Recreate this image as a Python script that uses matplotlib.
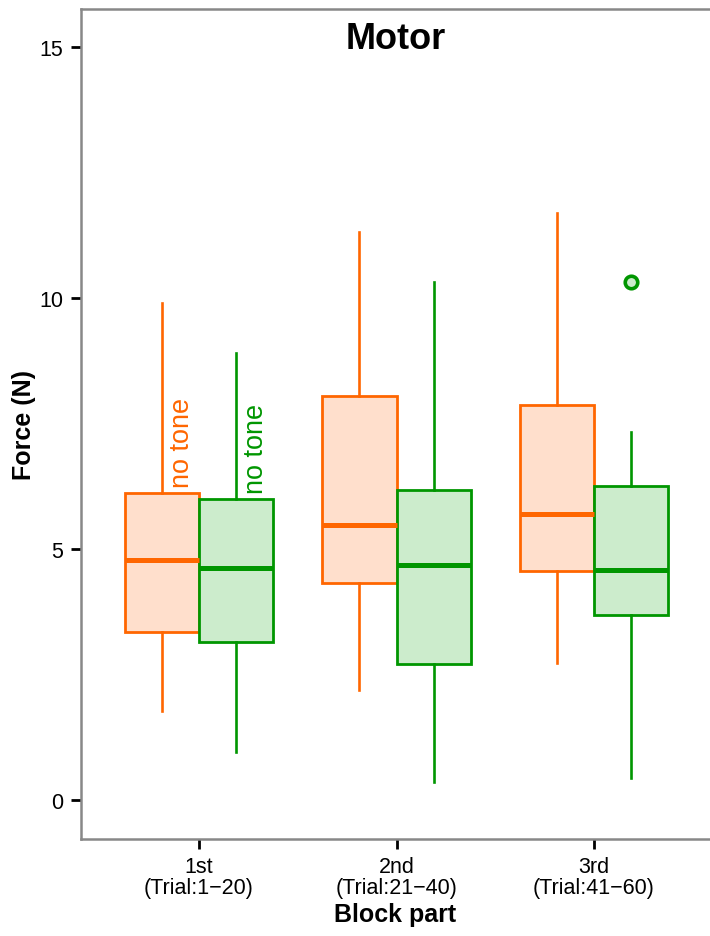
import matplotlib
matplotlib.use("Agg")
import matplotlib.pyplot as plt

plt.rcParams['font.family'] = ['Liberation Sans', 'DejaVu Sans']

# Block parts on the x axis
blocks = ["1st\n(Trial:1\u221220)", "2nd\n(Trial:21\u221240)", "3rd\n(Trial:41\u221260)"]

# Box statistics per block: whisker low, Q1, median, Q3, whisker high
orange_low = [1.77, 2.19, 2.73]
orange_q1 = [3.35, 4.32, 4.56]
orange_med = [4.78, 5.48, 5.70]
orange_q3 = [6.12, 8.05, 7.87]
orange_high = [9.90, 11.31, 11.69]
orange_fliers = [[], [], []]

green_low = [0.96, 0.36, 0.44]
green_q1 = [3.15, 2.71, 3.69]
green_med = [4.62, 4.68, 4.58]
green_q3 = [6.00, 6.18, 6.25]
green_high = [8.90, 10.32, 7.33]
green_fliers = [[], [], [10.32]]

series_label = "no tone"

orange = "#ff6600"
orange_fill = "#ffdfcc"
green = "#009600"
green_fill = "#cceccc"


def make_stats(low, q1, med, q3, high, fliers):
    stats = []
    for i in range(len(med)):
        stats.append({'whislo': low[i], 'q1': q1[i], 'med': med[i], 'q3': q3[i],
                      'whishi': high[i], 'fliers': fliers[i]})
    return stats


def draw_boxes(ax, stats, positions, color, fill):
    ax.bxp(stats, positions=positions, widths=0.375, patch_artist=True,
           showcaps=False, showfliers=True,
           boxprops=dict(facecolor=fill, edgecolor=color, linewidth=2.0),
           medianprops=dict(color=color, linewidth=3.6, solid_capstyle='butt'),
           whiskerprops=dict(color=color, linewidth=1.9),
           flierprops=dict(marker='o', markersize=9, markerfacecolor=fill,
                           markeredgecolor=color, markeredgewidth=2.6))


fig = plt.figure(figsize=(7.1, 9.37), dpi=100)
ax = fig.add_axes([0.114, 0.1035, 0.886, 0.8855])

centers = [1, 2, 3]
off = 0.1875
pos_orange = [c - off for c in centers]
pos_green = [c + off for c in centers]

draw_boxes(ax, make_stats(orange_low, orange_q1, orange_med, orange_q3, orange_high, orange_fliers),
           pos_orange, orange, orange_fill)
draw_boxes(ax, make_stats(green_low, green_q1, green_med, green_q3, green_high, green_fliers),
           pos_green, green, green_fill)

# labels sitting above the first pair of boxes
ax.text(pos_orange[0] + 0.10, orange_q3[0] + 0.12, series_label, rotation=90,
        color=orange, fontsize=19.5, ha='center', va='bottom')
ax.text(pos_green[0] + 0.10, green_q3[0] + 0.12, series_label, rotation=90,
        color=green, fontsize=19.5, ha='center', va='bottom')

ax.set_xlim(0.4025, 3.587)
ax.set_ylim(-0.777, 15.757)
ax.set_xticks(centers)
ax.set_xticklabels(blocks, fontsize=15.5, linespacing=1.0)
ax.set_yticks([0, 5, 10, 15])
ax.tick_params(axis='y', labelsize=15.5, length=7, width=2.0, pad=6, color='black')
ax.tick_params(axis='x', length=7, width=2.0, pad=5, color='black')

for side in ['left', 'top', 'bottom']:
    ax.spines[side].set_color('#888888')
    ax.spines[side].set_linewidth(1.8)
ax.spines['right'].set_visible(False)

ax.set_title("Motor", fontsize=26, fontweight='bold', y=0.943)
ax.set_xlabel("Block part", fontsize=18, fontweight='bold', labelpad=3)
ax.set_ylabel("Force (N)", fontsize=18, fontweight='bold', labelpad=2)

fig.savefig("out.png", dpi=100)
